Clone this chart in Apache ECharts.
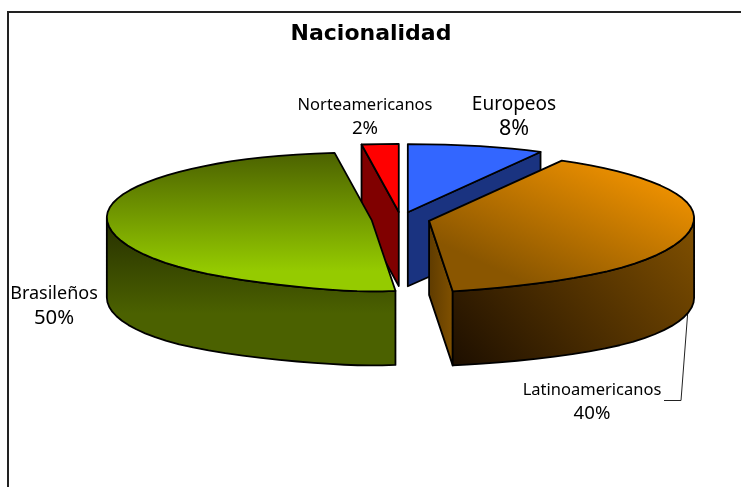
<!DOCTYPE html>
<html>
<head>
<meta charset="utf-8">
<style>
  html, body { margin: 0; padding: 0; background: #fff; }
  #chart { width: 741px; height: 487px; }
</style>
<script src="https://cdn.jsdelivr.net/npm/echarts@6/dist/echarts.min.js"></script>
</head>
<body>
<div id="chart"></div>
<script>
var titleText = "Nacionalidad";
var categories = ["Europeos", "Latinoamericanos", "Brasileños", "Norteamericanos"];
var percents = [8, 40, 50, 2];

// top face, outer wall, cut face for each slice
function grad(x, y, x2, y2, c0, c1, mid) {
  var stops = [{ offset: 0, color: c0 }, { offset: 1, color: c1 }];
  if (mid != null) stops[1].offset = mid, stops.push({ offset: 1, color: c1 });
  return { type: "linear", x: x, y: y, x2: x2, y2: y2, colorStops: stops };
}
var topFills = [
  "#3366ff",
  grad(0.8, 0, 0.55, 1.1, "#f59500", "#8a5600"),
  grad(0, 0, 0, 1, "#4b6100", "#95cb00", 0.85),
  "#ff0000"
];
var wallFills = [
  "#1a3380",
  grad(0.95, 0, 0.15, 1.2, "#7f4f00", "#1f1000"),
  grad(0, 0, 0, 1, "#252e00", "#4b6100", 0.65),
  "#800000"
];
var cutFills = [
  "#1a3380",
  grad(0, 0, 1, 0, "#5e3b00", "#815100"),
  "#4b6100",
  "#800000"
];

// pie geometry in px
var cx = 400.6, cy = 219.5;
var rx = 265, ryBack = 68, ryFront = 71;
var explodeX = 29, explodeY = 7.5;
var depth = 74;
var rad = Math.PI / 180;

function project(theta, ox, oy, bottom) {
  var s = Math.sin(theta), c = Math.cos(theta);
  var k = c > 0 ? 0.13 : 0.31;
  var f = 1 + k * c * Math.pow(Math.abs(c), 8);
  var y = oy - (c > 0 ? ryBack : ryFront) * c - 3 * s * s;
  if (bottom) y += depth + 6 * s * s;
  return [ox + rx * s * f, y];
}

function arcPoints(a0, a1, ox, oy, bottom) {
  var pts = [];
  var n = Math.max(2, Math.ceil(Math.abs(a1 - a0) / (4 * rad)));
  for (var i = 0; i <= n; i++) {
    pts.push(project(a0 + (a1 - a0) * i / n, ox, oy, bottom));
  }
  return pts;
}

var total = percents.reduce(function (a, b) { return a + b; }, 0);
var slices = [];
var acc = 0;
percents.forEach(function (v, i) {
  var a0 = acc / total * 360 * rad;
  acc += v;
  var a1 = acc / total * 360 * rad;
  slices.push({ index: i, a0: a0, a1: a1, mid: (a0 + a1) / 2 });
});

// paint from the back of the pie to the front
var order = slices.slice().sort(function (a, b) {
  return Math.cos(b.mid) - Math.cos(a.mid);
});

var lineStyle = { stroke: "#000", lineWidth: 1.8, lineJoin: "round" };

function poly(points, fill) {
  return {
    type: "polygon",
    shape: { points: points },
    style: Object.assign({ fill: fill }, lineStyle)
  };
}

function renderSlice(params, api) {
  var sl = slices[api.value(0)];
  var i = sl.index;
  var ox = cx + explodeX * Math.sin(sl.mid);
  var oy = cy - explodeY * Math.cos(sl.mid);
  var children = [];

  // cut faces
  [[sl.a0, sl.a0 - Math.PI / 2], [sl.a1, sl.a1 + Math.PI / 2]].forEach(function (f) {
    if (Math.cos(f[1]) < -0.001) {
      children.push(poly([
        [ox, oy],
        project(f[0], ox, oy, false),
        project(f[0], ox, oy, true),
        [ox, oy + depth]
      ], cutFills[i]));
    }
  });

  // outer wall, only the front half of the rim shows
  var w0 = Math.max(sl.a0, 90 * rad);
  var w1 = Math.min(sl.a1, 270 * rad);
  if (w1 > w0) {
    var upper = arcPoints(w0, w1, ox, oy, false);
    var lower = arcPoints(w1, w0, ox, oy, true);
    children.push(poly(upper.concat(lower), wallFills[i]));
  }

  // top face
  var top = [[ox, oy]].concat(arcPoints(sl.a0, sl.a1, ox, oy, false));
  children.push(poly(top, topFills[i]));

  return { type: "group", children: children };
}

function sliceLabel(i, x, y, size) {
  return {
    type: "text",
    x: x,
    y: y,
    style: {
      text: "{n|" + categories[i] + "}\n{p|" + percents[i] + "%}",
      align: "center",
      verticalAlign: "middle",
      rich: {
        n: { fontFamily: "Noto Sans", fontSize: size, color: "#111", lineHeight: 24, align: "center" },
        p: { fontFamily: "Noto Sans", fontSize: size * 1.13, color: "#111", lineHeight: 24, align: "center" }
      }
    }
  };
}
function leader(points, color, width) {
  return {
    type: "polyline",
    shape: { points: points },
    style: { stroke: color, lineWidth: width, fill: null }
  };
}

var option = {
  backgroundColor: "#fff",
  animation: false,
  title: {
    text: titleText,
    left: 366,
    top: 18,
    textAlign: "center",
    textStyle: { fontFamily: "DejaVu Sans", fontWeight: "bold", fontSize: 22, color: "#000" }
  },
  series: [{
    type: "custom",
    coordinateSystem: "none",
    renderItem: renderSlice,
    silent: true,
    data: order.map(function (s) { return [s.index, percents[s.index]]; }),
    z: 1
  }],
  graphic: [
    leader([[8, 487], [8, 12], [741, 12]], "#222", 2),
    leader([[106, 243.5], [120, 243.5]], "#fff", 1),
    leader([[688, 309], [681, 400.5], [664, 400.5]], "#222", 1),
    sliceLabel(0, 514, 117, 19),
    sliceLabel(1, 592, 402, 16.5),
    sliceLabel(2, 54, 306, 18),
    sliceLabel(3, 365, 117, 16.5)
  ]
};

var dom = echarts.init(document.getElementById("chart"));
dom.setOption(option);
</script>
</body>
</html>
